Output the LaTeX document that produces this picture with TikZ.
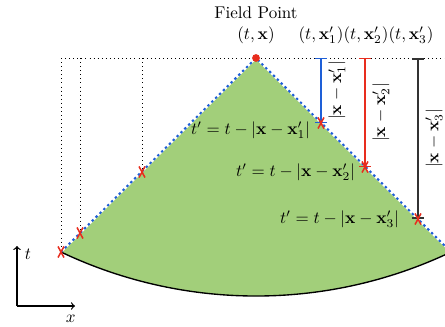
\documentclass[tikz,border=0pt]{standalone}
\usetikzlibrary{shapes.misc,positioning}

\definecolor{conegreen}{RGB}{162,207,122}
\definecolor{lineblue}{RGB}{30,95,215}
\definecolor{markred}{RGB}{232,45,30}
\definecolor{linegray}{RGB}{50,50,50}

\tikzset{
  srcmark/.style={cross out,draw=markred,line width=0.9pt,minimum width=2.6pt,minimum height=5.6pt,inner sep=0pt},
  guide/.style={dotted,thin},
  sepline/.style={|-|,line width=0.7pt}
}

\begin{document}
\begin{tikzpicture}[x=0.5882pt,y=0.5882pt]
\useasboundingbox (0,0) rectangle (445,326);

% Points of the cone
\coordinate (apex) at (256,268);
\coordinate (left) at (61,74);
\coordinate (right) at (451,74);
\coordinate (p2) at (80,93);
\coordinate (p3) at (142,154);
\coordinate (q1) at (321,203);
\coordinate (q2) at (365,159);
\coordinate (q3) at (418,107);

% Past light cone
\fill[conegreen] (left) -- (apex) -- (right)
  arc[start angle=-64.56,end angle=-115.44,radius=454] -- cycle;
\draw[line width=0.8pt] (left) arc[start angle=244.56,end angle=295.44,radius=454];
\draw[white,line width=1.2pt] (left) -- (apex) -- (right);
\draw[lineblue,line width=1.2pt,dash pattern=on 1.4pt off 1.8pt] (left) -- (apex) -- (right);

% Guide lines
\draw[guide] (61,268) -- (451,268);
\draw[guide] (61,268) -- (left);
\draw[guide] (80,268) -- (p2);
\draw[guide] (142,268) -- (p3);

% Distances
\draw[sepline,lineblue] (321,268) -- (q1)
  node[midway,rotate=90,anchor=north,black,inner sep=4pt] (d1) {$|\mathbf{x}-\mathbf{x}'_1|$};
\draw[sepline,markred] (365,268) -- (q2)
  node[midway,rotate=90,anchor=north,black,inner sep=4pt] (d2) {$|\mathbf{x}-\mathbf{x}'_2|$};
\draw[sepline,linegray,line width=0.9pt] (418,268) -- (q3)
  node[midway,rotate=90,anchor=north,black,inner sep=4pt] (d3) {$|\mathbf{x}-\mathbf{x}'_3|$};

% Sources
\foreach \p in {left,p2,p3,q1,q2,q3}
  \node[srcmark] (m-\p) at (\p) {};
\node[circle,fill=markred,inner sep=0pt,minimum size=4.6pt] (field) at (apex) {};

% Labels
\node (fptext) at (256,313) {Field Point};
\node (fpcoord) at (256,291) {$(t,\mathbf{x})$};
\node (s1) at (321,291) {$(t,\mathbf{x}'_1)$};
\node (s2) at (366,291) {$(t,\mathbf{x}'_2)$};
\node (s3) at (411,291) {$(t,\mathbf{x}'_3)$};

\node[anchor=east] (r1) at (316,196) {$t'=t-|\mathbf{x}-\mathbf{x}'_1|$};
\node[anchor=east] (r2) at (361,154) {$t'=t-|\mathbf{x}-\mathbf{x}'_2|$};
\node[anchor=east] (r3) at (405,107) {$t'=t-|\mathbf{x}-\mathbf{x}'_3|$};

% Axes
\coordinate (origin) at (17,20);
\draw[->,line width=0.7pt] (origin) -- ++(0,60) node[below right=-2pt and 1pt] (tlab) {$t$};
\draw[->,line width=0.7pt] (origin) -- ++(58,0) node[below left=2pt and -4pt] (xlab) {$x$};

\end{tikzpicture}
\end{document}
